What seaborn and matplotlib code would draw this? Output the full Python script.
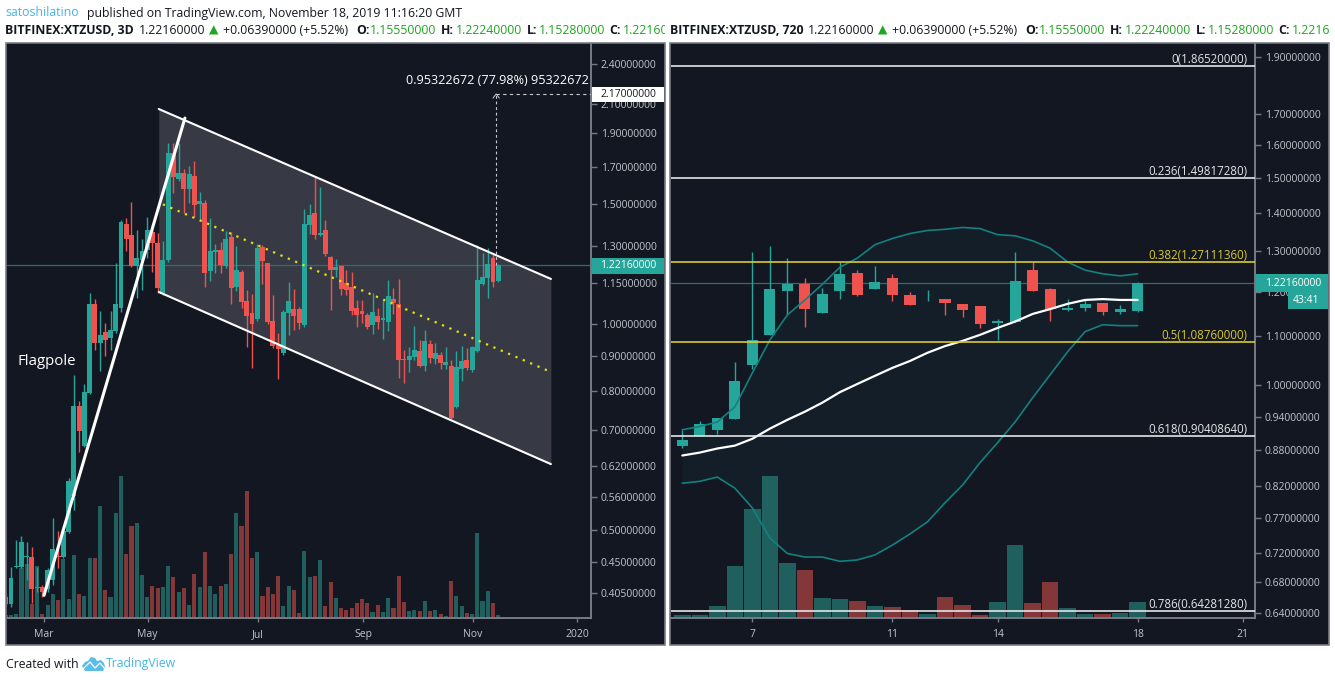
import numpy as np
import pandas as pd
import matplotlib
matplotlib.use("Agg")
import matplotlib.pyplot as plt
from matplotlib.patches import Polygon, Rectangle
from matplotlib.transforms import Bbox
import seaborn as sns

W, H = 1335, 682

# 3D candles, left panel
left_opens = [.391, .391, .442, .442, .457, .457, .412, .413, .410, .423,
              .459, .457, .498, .561, .760, .665, .794, 1.070, .939, .975,
              .955, .978, 1.056, 1.402, 1.350, 1.218, 1.242, 1.284, 1.365, 1.315,
              1.107, 1.242, 1.778, 1.630, 1.664, 1.576, 1.647, 1.499, 1.504, 1.196,
              1.275, 1.284, 1.218, 1.342, 1.134, 1.193, 1.081, 1.038, 1.018, 1.297,
              1.230, 1.011, .933, .908, 1.038, 1.053, 1.053, .998, 1.397, 1.454,
              1.350, 1.373, 1.254, 1.200, 1.218, 1.149, 1.134, 1.056, 1.045, 1.031,
              .998, 1.028, 1.015, 1.008, 1.088, 1.070, .890, .887, .896, .914,
              .870, .936, .890, .902, .873, .870, .757, .860, .887, .857,
              .914, 1.146, 1.169, 1.250, 1.1555]
left_highs = [.404, .442, .484, .491, .481, .473, .442, .416, .441, .522,
              .499, .508, .596, .843, .772, .818, 1.111, 1.088, 1.045, 1.005,
              1.045, 1.230, 1.421, 1.431, 1.509, 1.373, 1.333, 1.435, 1.397, 1.360,
              1.324, 1.840, 1.840, 1.840, 1.686, 1.703, 1.732, 1.561, 1.519, 1.431,
              1.311, 1.320, 1.369, 1.365, 1.301, 1.200, 1.122, 1.107, 1.311, 1.306,
              1.230, 1.103, .971, 1.049, 1.153, 1.126, 1.060, 1.474, 1.499, 1.641,
              1.587, 1.421, 1.258, 1.246, 1.218, 1.200, 1.193, 1.085, 1.085, 1.038,
              1.111, 1.056, 1.085, 1.161, 1.130, 1.165, .917, .927, .995, .949,
              .981, .949, .939, .911, .927, .887, .914, .930, .924, .930,
              1.306, 1.271, 1.293, 1.267, 1.2240]
left_lows = [.388, .387, .441, .440, .423, .392, .406, .400, .406, .416,
             .440, .456, .496, .535, .652, .661, .791, .917, .854, .899,
             .917, .971, 1.042, 1.280, 1.214, 1.092, 1.122, 1.250, 1.193, 1.111,
             1.103, 1.234, 1.555, 1.620, 1.454, 1.504, 1.435, 1.416, 1.134, 1.157,
             1.188, 1.188, 1.210, 1.070, 1.118, 1.056, .927, .863, 1.011, 1.146,
             1.001, .923, .832, .902, .965, .981, .984, .991, 1.356, 1.333,
             1.346, 1.258, 1.049, 1.173, 1.103, 1.103, 1.031, .991, 1.005, .984,
             .968, .984, .952, .978, 1.035, .835, .821, .851, .887, .867,
             .854, .878, .875, .860, .860, .727, .755, .826, .857, .851,
             .911, 1.143, 1.092, 1.134, 1.1528]
left_closes = [.400, .426, .444, .481, .459, .410, .413, .406, .438, .470,
               .457, .499, .591, .760, .699, .796, 1.070, .939, .965, .949,
               .981, 1.070, 1.412, 1.333, 1.218, 1.250, 1.280, 1.373, 1.315, 1.130,
               1.242, 1.778, 1.641, 1.664, 1.576, 1.658, 1.494, 1.514, 1.188, 1.280,
               1.284, 1.222, 1.333, 1.130, 1.200, 1.078, 1.028, 1.001, 1.293, 1.238,
               1.008, .929, .920, 1.042, 1.081, 1.028, 1.005, 1.402, 1.445, 1.350,
               1.360, 1.267, 1.200, 1.214, 1.126, 1.122, 1.045, 1.031, 1.035, .991,
               1.042, 1.008, 1.021, 1.099, 1.074, .887, .887, .899, .917, .870,
               .946, .893, .908, .878, .881, .730, .867, .884, .863, .927,
               1.161, 1.173, 1.226, 1.153, 1.2216]
left_volume = [8, 8, 11, 150, 163, 43, 157, 11, 40, 71,
               53, 178, 58, 188, 71, 65, 181, 181, 335, 85,
               62, 314, 425, 193, 275, 286, 128, 62, 95, 89,
               92, 155, 122, 77, 89, 38, 131, 92, 197, 95,
               71, 95, 101, 191, 316, 275, 380, 181, 197, 65,
               92, 71, 125, 35, 95, 83, 15, 201, 123, 126,
               174, 36, 108, 60, 30, 24, 30, 45, 57, 45,
               18, 39, 18, 60, 30, 126, 48, 21, 24, 21,
               51, 21, 24, 12, 6, 111, 66, 36, 15, 12,
               255, 51, 81, 45, 9]
left_yticks = [2.4, 2.1, 1.9, 1.7, 1.5, 1.3, 1.15, 1.0, .9, .8, .7, .62, .56, .5, .45, .405]
left_xticks = [7.3, 27.06, 48.1, 68.2, 89.1, 109.1]
left_xlabels = ["Mar", "May", "Jul", "Sep", "Nov", "2020"]

# 12h candles, right panel
right_opens = [.888, .904, .916, .936, 1.040, 1.103, 1.202, 1.218, 1.151, 1.202,
               1.245, 1.206, 1.234, 1.193, 1.178, 1.183, 1.172, 1.168, 1.129, 1.132,
               1.252, 1.206, 1.158, 1.162, 1.174, 1.154, 1.1555]
right_highs = [.916, .932, .938, 1.046, 1.297, 1.312, 1.282, 1.234, 1.209, 1.271,
               1.252, 1.262, 1.243, 1.200, 1.204, 1.184, 1.172, 1.168, 1.138, 1.297,
               1.271, 1.209, 1.183, 1.183, 1.174, 1.170, 1.2224]
right_lows = [.884, .904, .908, .936, 1.032, 1.103, 1.147, 1.120, 1.151, 1.183,
              1.190, 1.206, 1.179, 1.170, 1.178, 1.147, 1.143, 1.118, 1.092, 1.132,
              1.202, 1.134, 1.156, 1.156, 1.147, 1.149, 1.1528]
right_closes = [.898, .927, .938, 1.008, 1.092, 1.206, 1.218, 1.160, 1.195, 1.243,
                1.193, 1.223, 1.193, 1.170, 1.179, 1.174, 1.158, 1.127, 1.134, 1.226,
                1.202, 1.160, 1.162, 1.172, 1.154, 1.160, 1.2216]
right_volume = [9, 9, 36, 156, 326, 426, 165, 144, 60, 57,
                51, 36, 33, 24, 12, 63, 39, 9, 48, 219,
                45, 108, 30, 12, 12, 16, 48]
band_upper = [.916, .922, .930, .958, 1.024, 1.092, 1.147, 1.181, 1.218, 1.259,
              1.282, 1.316, 1.332, 1.345, 1.353, 1.356, 1.361, 1.358, 1.342, 1.339,
              1.326, 1.307, 1.272, 1.252, 1.243, 1.238, 1.243]
band_middle = [.871, .876, .883, .888, .900, .918, .934, .949, .966, .986,
               1.002, 1.018, 1.034, 1.048, 1.065, 1.079, 1.090, 1.103, 1.118, 1.132,
               1.149, 1.160, 1.172, 1.181, 1.183, 1.181, 1.181]
band_lower = [.825, .828, .835, .817, .786, .741, .719, .714, .714, .708,
              .710, .717, .731, .747, .765, .794, .822, .859, .893, .930,
              .975, 1.020, 1.067, 1.110, 1.125, 1.123, 1.123]
right_yticks = [1.9, 1.7, 1.6, 1.5, 1.4, 1.3, 1.2, 1.1, 1.0, .94, .88, .82, .77, .72, .68, .64]
right_xticks = [4, 12, 18, 26, 32]
right_xlabels = ["7", "11", "14", "18", "21"]
fib_ratios = ["0", "0.236", "0.382", "0.5", "0.618", "0.786"]
fib_levels = [1.8652, 1.4981728, 1.2711136, 1.0876, .9040864, .6428128]

# drawings on the left panel
channel_x = [29.2, 104.05]
channel_top = [2.063, 1.165]
channel_bottom = [1.115, .625]
midline_x = [30.0, 104.05]
midline_y = [1.497, .852]
flagpole_x = [7.3, 34.2]
flagpole_y = [.402, 2.001]
target_x = 93.6
target_price = 2.17
last_price = 1.2216

BG = "#131722"
FRAME = "#787b86"
AXTXT = "#c3c5cc"
UP = "#26a69a"
DOWN = "#ef5350"
VOL_UP = "#1f5f5d"
VOL_DOWN = "#843739"
GOLD = "#d9c92e"

sns.set_theme(style="dark")
plt.rcParams["font.family"] = ["Open Sans", "DejaVu Sans"]
fig = plt.figure(figsize=(W / 100, H / 100), dpi=100, facecolor="white")


def fx(x):
    return x / W


def fy(y):
    return 1 - y / H


def add_panel(left, right, axis_x):
    # whole panel frame, plot area inside it
    fig.add_artist(Rectangle((fx(left), fy(645)), (right - left) / W, 602 / H,
                             transform=fig.transFigure, fc=BG, ec=FRAME, lw=1.2))
    vol = fig.add_axes([fx(left + 1), fy(618), (axis_x - left - 1) / W, 574 / H])
    price = vol.twinx()
    vol.set_zorder(1)
    price.set_zorder(2)
    vol.patch.set_alpha(0)
    price.patch.set_alpha(0)
    return vol, price


def draw_volume(ax, volume, opens, closes, width):
    df = pd.DataFrame({"i": np.arange(len(volume)), "v": volume,
                       "side": ["up" if c >= o else "down" for o, c in zip(opens, closes)]})
    sns.barplot(data=df, x="i", y="v", hue="side", palette={"up": VOL_UP, "down": VOL_DOWN},
                native_scale=True, dodge=False, width=width, saturation=1, linewidth=0,
                legend=False, ax=ax)
    ax.set_ylim(0, 574 * 3)
    ax.set_xlabel("")
    ax.set_ylabel("")
    ax.set_yticks([])


def draw_candles(ax, opens, highs, lows, closes, width):
    x = np.arange(len(opens))
    o, c = np.array(opens), np.array(closes)
    colors = [UP if b >= a else DOWN for a, b in zip(o, c)]
    ax.vlines(x, lows, highs, colors=colors, lw=1, zorder=3)
    ax.bar(x, np.abs(c - o), bottom=np.minimum(o, c), width=width, color=colors, lw=0, zorder=4)


def style_axes(vol, price, xlim, ylim, yticks, xticks, xlabels):
    vol.set_xlim(*xlim)
    price.set_xlim(*xlim)
    price.set_yscale("log")
    price.set_ylim(*ylim)
    price.set_yticks(yticks)
    price.set_yticklabels([f"{t:.8f}" for t in yticks])
    price.minorticks_off()
    price.tick_params(axis="y", colors=FRAME, labelcolor=AXTXT, labelsize=7.5, length=4,
                      width=1, pad=3, which="major", right=True)
    vol.set_xticks(xticks)
    vol.set_xticklabels(xlabels)
    vol.tick_params(axis="x", colors=FRAME, labelcolor=AXTXT, labelsize=7.5, length=3,
                    width=1, pad=5, bottom=True)
    for ax in (vol, price):
        for side in ("top", "left"):
            ax.spines[side].set_visible(False)
        for side in ("right", "bottom"):
            ax.spines[side].set_color(FRAME)
            ax.spines[side].set_linewidth(1.2)
        ax.grid(False)


# ---------- left panel
vol1, ax1 = add_panel(6, 665, 591)
draw_volume(vol1, left_volume, left_opens, left_closes, 0.78)
style_axes(vol1, ax1, (0.24, 111.7), (.3725, 2.567), left_yticks, left_xticks, left_xlabels)
ax1.fill_between(channel_x, channel_bottom, channel_top, color="#373a44", lw=0, zorder=1)
ax1.axhline(last_price, color="#2b6f6c", lw=0.9, zorder=2)
draw_candles(ax1, left_opens, left_highs, left_lows, left_closes, 0.94)
ax1.plot(channel_x, channel_top, color="white", lw=1.5, zorder=5)
ax1.plot(channel_x, channel_bottom, color="white", lw=1.5, zorder=5)
ax1.plot(midline_x, midline_y, color="#e8e010", lw=1.6, ls=(0, (1, 2.6)), zorder=5)
ax1.plot(flagpole_x, flagpole_y, color="white", lw=2.2, zorder=6)
ax1.plot([target_x, target_x], [last_price, target_price], color="#c8cad0", lw=0.8,
         ls=(0, (2.5, 2.5)), zorder=5)
ax1.plot([target_x, 111.7], [target_price, target_price], color="#c8cad0", lw=0.8,
         ls=(0, (3, 3)), zorder=5)
ax1.plot([target_x - .6, target_x, target_x + .6], [2.14, target_price, 2.14], color="#c8cad0",
         lw=0.7, zorder=5)
ax1.text(111.2, 2.274, "0.95322672 (77.98%) 95322672", color="white", fontsize=9.1, ha="right",
         va="center", zorder=7)
ax1.text(2.3, 0.8836, "Flagpole", color="white", fontsize=10.8, ha="left", va="center", zorder=7)

# ---------- right panel
vol2, ax2 = add_panel(670, 1329, 1255)
draw_volume(vol2, right_volume, right_opens, right_closes, 0.95)
style_axes(vol2, ax2, (-0.646, 32.7), (.6337, 1.949), right_yticks, right_xticks, right_xlabels)
x2 = np.arange(len(band_upper))
ax2.fill_between(x2, band_lower, band_upper, color="#26a69a", alpha=0.05, lw=0, zorder=1)
ax2.axhline(last_price, color="#2b6f6c", lw=0.9, zorder=2)
draw_candles(ax2, right_opens, right_highs, right_lows, right_closes, 0.63)
band_df = pd.DataFrame({"i": x2, "upper": band_upper, "middle": band_middle, "lower": band_lower})
sns.lineplot(data=band_df, x="i", y="upper", color="#14807f", lw=1.2, ax=ax2, zorder=5)
sns.lineplot(data=band_df, x="i", y="lower", color="#14807f", lw=1.2, ax=ax2, zorder=5)
sns.lineplot(data=band_df, x="i", y="middle", color="white", lw=1.6, ax=ax2, zorder=6)
ax2.set_xlabel("")
ax2.set_ylabel("")
for ratio, level in zip(fib_ratios, fib_levels):
    col = GOLD if ratio in ("0.382", "0.5") else "#e4e5e8"
    ax2.axhline(level, color=col, lw=1.2, zorder=6)
    ax2.annotate(f"{ratio}({level:.8f})", xy=(32.25, level), xytext=(0, 0),
                 textcoords="offset points", ha="right", va="bottom", color=col,
                 fontsize=8.3, zorder=7)

# price scale tags
fig.add_artist(Rectangle((fx(592), fy(102)), 72 / W, 15 / H, transform=fig.transFigure,
                         fc="white", ec="none", zorder=5))
fig.text(fx(600), fy(94.5), "2.17000000", color="#131722", fontsize=7.5, va="center", zorder=6)
fig.add_artist(Rectangle((fx(592), fy(274)), 72 / W, 16 / H, transform=fig.transFigure,
                         fc=UP, ec="none", zorder=5))
fig.text(fx(600), fy(266), "1.22160000", color="white", fontsize=7.5, va="center", zorder=6)
fig.add_artist(Rectangle((fx(1256), fy(292)), 72 / W, 18 / H, transform=fig.transFigure,
                         fc=UP, ec="none", zorder=5))
fig.text(fx(1265), fy(283), "1.22160000", color="white", fontsize=7.5, va="center", zorder=6)
fig.add_artist(Rectangle((fx(1288), fy(309)), 40 / W, 17 / H, transform=fig.transFigure,
                         fc=UP, ec="none", zorder=5))
fig.text(fx(1293), fy(300.5), "43:41", color="white", fontsize=7.5, va="center", zorder=6)

# ---------- header and footer
HEAD = "#131722"
GREEN = "#1fa51f"
fig.text(fx(5), fy(13), "satoshilatino", color="#45b4e6", fontsize=8.8, va="center")
fig.text(fx(87), fy(13), "published on TradingView.com, November 18, 2019 11:16:20 GMT",
         color=HEAD, fontsize=8.8, va="center")


def header_row(x0, title, shift, right_edge):
    clip = Bbox([[x0 - 2, 0], [right_edge, H]])
    parts = [(134, "1.22160000", HEAD, "normal"), (204, "▲", GREEN, "normal"),
             (218, "+0.06390000 (+5.52%)", HEAD, "normal"),
             (351, "O:", HEAD, "bold"), (365, "1.15550000", GREEN, "normal"),
             (436, "H:", HEAD, "bold"), (451, "1.22240000", GREEN, "normal"),
             (522, "L:", HEAD, "bold"), (534, "1.15280000", GREEN, "normal"),
             (604, "C:", HEAD, "bold"), (618, "1.22160000", GREEN, "normal")]
    fig.text(fx(x0), fy(30), title, color=HEAD, fontsize=8.8, fontweight="bold", va="center")
    for dx, s, c, w in parts:
        t = fig.text(fx(x0 + dx + shift), fy(30), s, color=c, fontsize=8.8, fontweight=w, va="center")
        t.set_clip_on(True)
        t.set_clip_box(clip)


header_row(5, "BITFINEX:XTZUSD, 3D", 0, 665)
header_row(670, "BITFINEX:XTZUSD, 720", 4, 1330)

fig.text(fx(6), fy(664), "Created with", color=HEAD, fontsize=8.8, va="center")
logo = [(82, 666), (85, 662), (88, 661), (91, 657), (95, 658), (97, 661), (101, 660), (104, 663),
        (105, 667), (103, 671), (85, 671)]
fig.add_artist(Polygon([(fx(a), fy(b)) for a, b in logo], transform=fig.transFigure,
                       fc="#59bce9", ec="none"))
zigzag = [(83, 669), (90, 662), (95, 668), (100, 663), (105, 669)]
fig.add_artist(plt.Line2D([fx(a) for a, b in zigzag], [fy(b) for a, b in zigzag],
                          transform=fig.transFigure, color="white", lw=0.9))
fig.text(fx(106), fy(664), "TradingView", color="#45b4e6", fontsize=8.8, va="center")

fig.savefig("out.png", dpi=100, facecolor="white")
